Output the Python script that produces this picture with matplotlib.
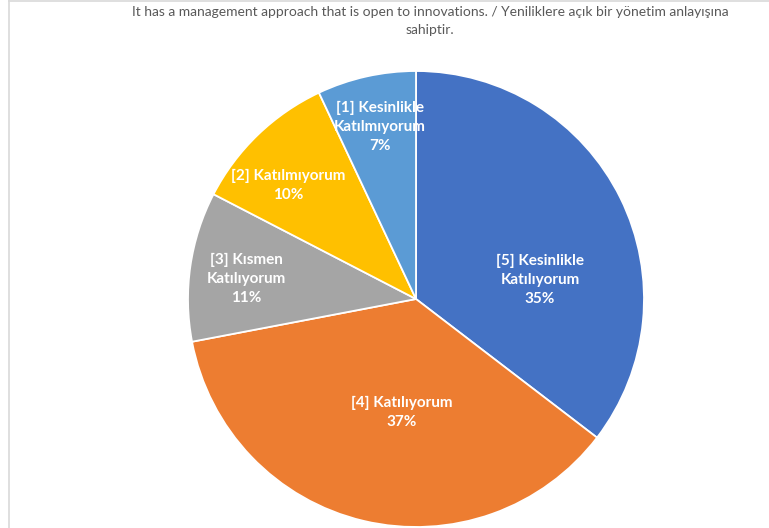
'''
    Pie chart of survey answers: open to innovations.
'''

import numpy as np
import matplotlib.pyplot as plt
from matplotlib.lines import Line2D

# === data === #
labels = ['[5] Kesinlikle\nKatılıyorum', '[4] Katılıyorum', '[3] Kısmen\nKatılıyorum',
          '[2] Katılmıyorum', '[1] Kesinlikle\nKatılmıyorum']
shares = [35.4, 36.6, 10.6, 10.4, 7.0]
title = 'It has a management approach that is open to innovations. / Yeniliklere açık bir yönetim anlayışına\nsahiptir.'

# === style === #
colors = ['#4472C4', '#ED7D31', '#A5A5A5', '#FFC000', '#5B9BD5']
label_r = [0.55, 0.50, 0.75, 0.75, 0.77]       # label distance (fraction of radius)
label_dang = [-17.4, 6.0, 1.6, 4.4, -0.8]      # angle tweak from wedge middle, deg

W, H = 769, 528
fig = plt.figure(figsize=(W / 100, H / 100), dpi=100)
fig.patch.set_facecolor('white')

cx, cy, R = 416, 299, 228
ax = fig.add_axes([(cx - R) / W, (H - cy - R) / H, 2 * R / W, 2 * R / H])

wedges, _ = ax.pie(shares, colors=colors, startangle=90, counterclock=False,
                   radius=1, wedgeprops=dict(edgecolor='white', linewidth=1.3))
ax.set_xlim(-1, 1)
ax.set_ylim(-1, 1)
ax.set_aspect('equal')
ax.axis('off')

tot = sum(shares)
for w, lab, s, r, da in zip(wedges, labels, shares, label_r, label_dang):
    ang = np.deg2rad((w.theta1 + w.theta2) / 2 + da)
    ax.text(r * np.cos(ang), r * np.sin(ang), f'{lab}\n{round(100 * s / tot)}%',
            ha='center', va='center', color='white', fontsize=11,
            fontweight='bold', family='Lato', linespacing=1.45)

fig.text(430 / W, 1 - 21 / H, title, ha='center', va='center', fontsize=10,
         color='#595959', family='Lato', linespacing=1.5)

# frame lines (top and left)
fig.add_artist(Line2D([8.5 / W, 1], [1 - 0.5 / H, 1 - 0.5 / H], color='#D9D9D9', lw=1.2))
fig.add_artist(Line2D([8.5 / W, 8.5 / W], [0, 1], color='#D9D9D9', lw=1.2))

fig.savefig('out.png', dpi=100)
